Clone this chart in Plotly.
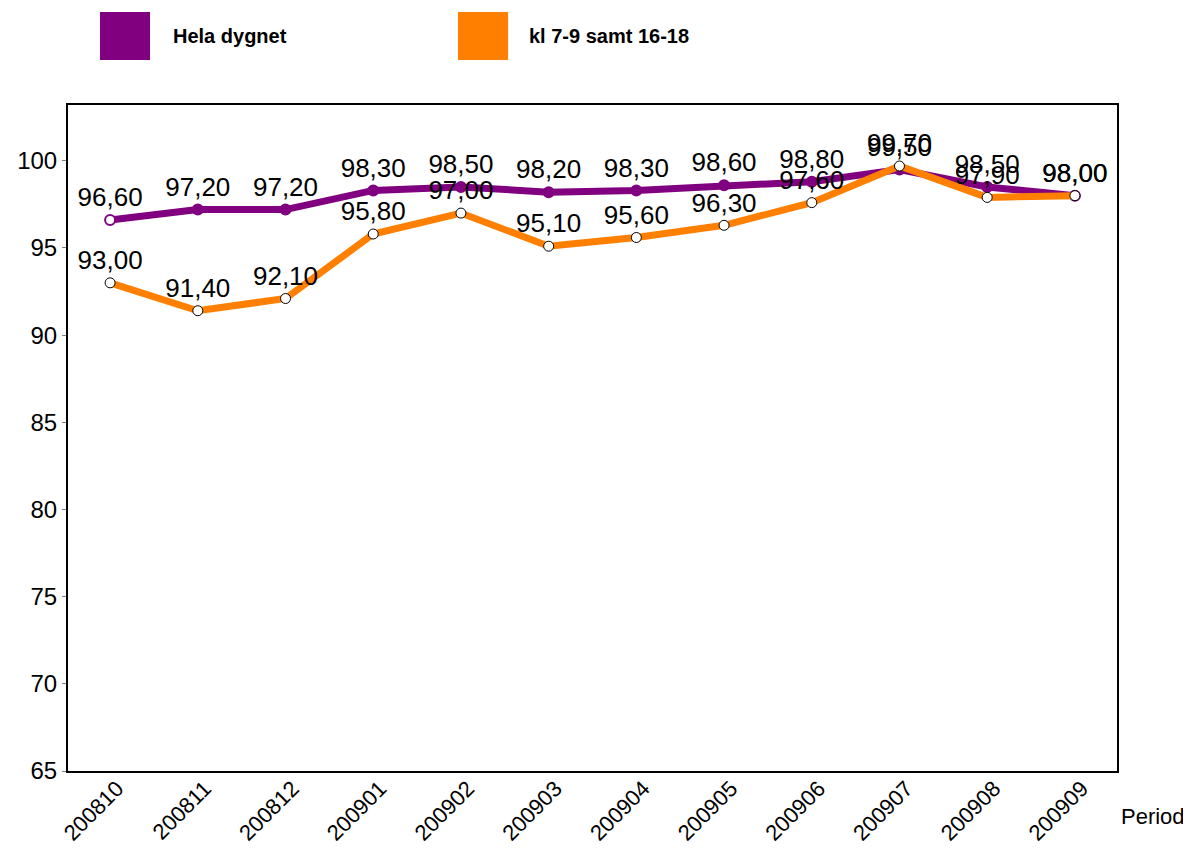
import plotly.graph_objects as go

periods = ["200810", "200811", "200812", "200901", "200902", "200903",
           "200904", "200905", "200906", "200907", "200908", "200909"]
hela = [96.6, 97.2, 97.2, 98.3, 98.5, 98.2, 98.3, 98.6, 98.8, 99.5, 98.5, 98.0]
rush = [93.0, 91.4, 92.1, 95.8, 97.0, 95.1, 95.6, 96.3, 97.6, 99.7, 97.9, 98.0]
series_names = ["Hela dygnet", "kl 7-9 samt 16-18"]
y_ticks = [65, 70, 75, 80, 85, 90, 95, 100]

PURPLE = "#800080"
ORANGE = "#FF8000"
FONT = "Liberation Sans, Arial, sans-serif"

fig = go.Figure()

hela_fill = [PURPLE] * len(hela)
hela_fill[0] = "white"
hela_fill[-1] = "white"

fig.add_trace(go.Scatter(
    x=periods, y=hela, mode="lines+markers+text",
    name=series_names[0],
    line=dict(color=PURPLE, width=7),
    marker=dict(size=10, color=hela_fill, line=dict(color=PURPLE, width=2)),
    texttemplate="%{y:.2f}", textposition="top center",
    textfont=dict(size=26, color="black", family=FONT),
    showlegend=False, cliponaxis=False,
))
fig.add_trace(go.Scatter(
    x=periods, y=rush, mode="lines+markers+text",
    name=series_names[1],
    line=dict(color=ORANGE, width=7),
    marker=dict(size=10, color="white", line=dict(color="black", width=1)),
    texttemplate="%{y:.2f}", textposition="top center",
    textfont=dict(size=26, color="black", family=FONT),
    showlegend=False, cliponaxis=False,
))

# legend drawn as squares + bold labels
legend_items = [(series_names[0], PURPLE, 0.0305, 0.0985),
                (series_names[1], ORANGE, 0.3718, 0.4375)]
for name, col, x0, tx in legend_items:
    fig.add_shape(type="rect", xref="paper", yref="paper",
                  x0=x0, x1=x0 + 0.0477, y0=1.0676, y1=1.1396,
                  fillcolor=col, line=dict(width=0))
    fig.add_annotation(xref="paper", yref="paper", x=tx, y=1.1036,
                       text="<b>" + name + "</b>", showarrow=False,
                       xanchor="left", yanchor="middle",
                       font=dict(size=20, color="black", family=FONT))

fig.add_annotation(xref="paper", yref="paper", x=1.002, y=-0.069,
                   text="Period", showarrow=False, xanchor="left",
                   yanchor="middle", font=dict(size=22, color="black", family=FONT))

fig.update_layout(
    width=1183, height=840,
    margin=dict(l=60, r=74, t=97, b=77),
    paper_bgcolor="white", plot_bgcolor="white",
    separators=", ",
    font=dict(family=FONT, color="black"),
    xaxis=dict(type="category", range=[-0.48, 11.48], showgrid=False,
               showline=True, linecolor="black", linewidth=2, mirror=True,
               tickangle=-45, tickfont=dict(size=22), ticks="",
               ticklabelstandoff=-6, ticklabelshift=7,
               automargin=False),
    yaxis=dict(range=[65, 103.2], tickvals=y_ticks, showgrid=False,
               showline=True, linecolor="black", linewidth=2, mirror=True,
               ticks="outside", ticklen=4, tickcolor="#808080",
               tickfont=dict(size=24), zeroline=False, automargin=False),
)

fig.write_html("out.html")
